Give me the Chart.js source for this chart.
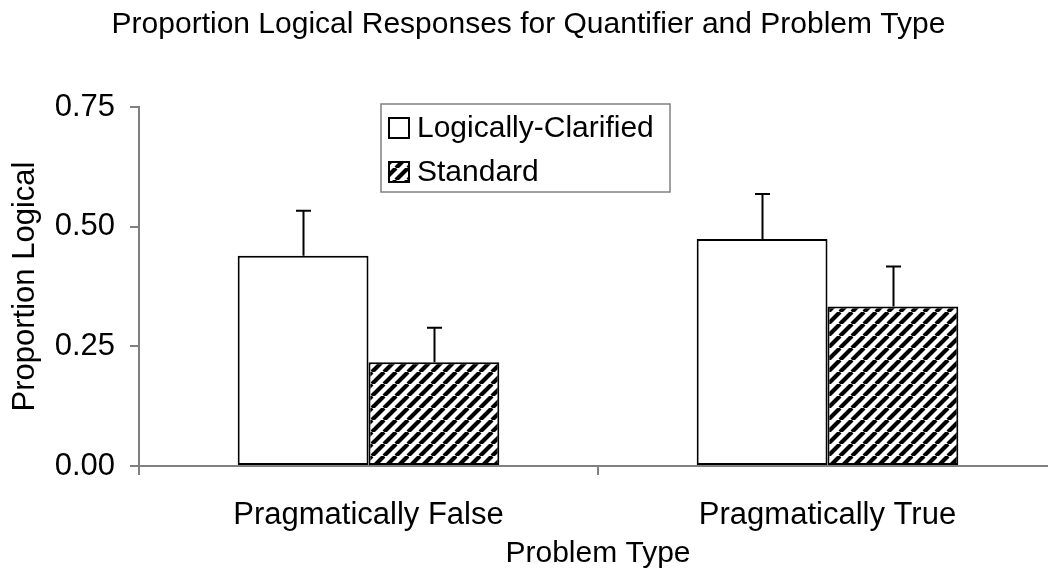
<!DOCTYPE html>
<html>
<head>
<meta charset="utf-8">
<script src="https://cdn.jsdelivr.net/npm/chart.js@4.4.1/dist/chart.umd.min.js"></script>
<style>
  html, body { margin: 0; padding: 0; background: #fff; overflow: hidden; }
  #wrap { width: 1080px; height: 586px; }
</style>
</head>
<body>
<div id="wrap"><canvas id="chart"></canvas></div>
<script>
// Data
const categories = ['Pragmatically False', 'Pragmatically True'];
const seriesNames = ['Logically-Clarified', 'Standard'];
const clarifiedValues = [0.439, 0.474];
const standardValues = [0.217, 0.333];
const clarifiedErrors = [0.094, 0.094];
const standardErrors = [0.072, 0.084];
const yTicks = [0, 0.25, 0.5, 0.75];

const FONT = "'Liberation Sans', Arial, sans-serif";
const AXIS_GREY = '#808080';

// Diagonal hatch for the Standard series
function makeHatch() {
    const s = 12;
    const c = document.createElement('canvas');
    c.width = s;
    c.height = s;
    const g = c.getContext('2d');
    g.fillStyle = '#fff';
    g.fillRect(0, 0, s, s);
    g.strokeStyle = '#000';
    g.lineWidth = 4.2;
    g.beginPath();
    for (let k = -1; k <= 1; k++) {
        g.moveTo(k * s, s);
        g.lineTo(k * s + s, 0);
    }
    g.stroke();
    return g.createPattern(c, 'repeat');
}
const hatch = makeHatch();

const errorsByDataset = [clarifiedErrors, standardErrors];

// Upper error bars with caps
const errorBarPlugin = {
    id: 'errorBars',
    afterDatasetsDraw(chart) {
        const ctx = chart.ctx;
        const yScale = chart.scales.y;
        ctx.save();
        ctx.strokeStyle = '#000';
        ctx.lineWidth = 2;
        chart.data.datasets.forEach((ds, di) => {
            const meta = chart.getDatasetMeta(di);
            meta.data.forEach((bar, i) => {
                const top = yScale.getPixelForValue(ds.data[i] + errorsByDataset[di][i]);
                const x = Math.round(bar.x) + 0.5;
                ctx.beginPath();
                ctx.moveTo(x, bar.y);
                ctx.lineTo(x, top);
                ctx.moveTo(x - 7.5, top);
                ctx.lineTo(x + 7.5, top);
                ctx.stroke();
            });
        });
        ctx.restore();
    }
};

// Boxed legend floating inside the plot area
const boxLegendPlugin = {
    id: 'boxLegend',
    afterDraw(chart) {
        const ctx = chart.ctx;
        const area = chart.chartArea;
        const left = area.left + 242;
        const top = area.top - 3;
        const w = 289, h = 88;
        ctx.save();
        ctx.fillStyle = '#fff';
        ctx.fillRect(left, top, w, h);
        ctx.strokeStyle = AXIS_GREY;
        ctx.lineWidth = 1.5;
        ctx.strokeRect(left, top, w, h);
        ctx.font = '30px ' + FONT;
        ctx.textBaseline = 'middle';
        ctx.textAlign = 'left';
        chart.data.datasets.forEach((ds, i) => {
            const cy = top + 24 + i * 44;
            ctx.fillStyle = ds.backgroundColor;
            ctx.fillRect(left + 8, cy - 10, 20, 20);
            ctx.strokeStyle = '#000';
            ctx.lineWidth = 2;
            ctx.strokeRect(left + 8, cy - 10, 20, 20);
            ctx.fillStyle = '#000';
            ctx.fillText(ds.label, left + 36, cy + 1);
        });
        ctx.restore();
    }
};

new Chart(document.getElementById('chart'), {
    type: 'bar',
    data: {
        labels: categories,
        datasets: [
            {
                label: seriesNames[0],
                data: clarifiedValues,
                backgroundColor: '#ffffff',
                borderColor: '#000000',
                borderWidth: 2,
                borderSkipped: false
            },
            {
                label: seriesNames[1],
                data: standardValues,
                backgroundColor: hatch,
                borderColor: '#000000',
                borderWidth: 2,
                borderSkipped: false
            }
        ]
    },
    options: {
        responsive: true,
        maintainAspectRatio: false,
        animation: false,
        layout: { padding: { left: 0, right: 23, top: 0, bottom: 0 } },
        datasets: {
            bar: { categoryPercentage: 0.57, barPercentage: 1.0 }
        },
        plugins: {
            legend: { display: false },
            tooltip: { enabled: false },
            title: {
                display: true,
                text: 'Proportion Logical Responses for Quantifier and Problem Type',
                color: '#000',
                font: { family: FONT, size: 30, weight: 'normal' },
                padding: { top: 6.5, bottom: 64.5 }
            }
        },
        scales: {
            x: {
                afterFit(scale) { scale.height = 120; },
                grid: {
                    display: true,
                    drawOnChartArea: false,
                    offset: true,
                    tickLength: 9,
                    color: AXIS_GREY,
                    lineWidth: 2
                },
                border: { color: AXIS_GREY, width: 2 },
                ticks: {
                    color: '#000',
                    padding: 22,
                    maxRotation: 0,
                    font: { family: FONT, size: 31 }
                },
                title: {
                    display: true,
                    text: 'Problem Type',
                    color: '#000',
                    font: { family: FONT, size: 30 },
                    padding: { top: 0, bottom: 14 }
                }
            },
            y: {
                min: 0,
                max: 0.75,
                afterFit(scale) { scale.width = 139; },
                afterBuildTicks(scale) {
                    scale.ticks = yTicks.map(v => ({ value: v }));
                },
                grid: {
                    display: true,
                    drawOnChartArea: false,
                    tickLength: 9,
                    color: AXIS_GREY,
                    lineWidth: 2
                },
                border: { color: AXIS_GREY, width: 2 },
                ticks: {
                    color: '#000',
                    padding: 15,
                    font: { family: FONT, size: 31 },
                    callback: v => Number(v).toFixed(2)
                },
                title: {
                    display: true,
                    text: 'Proportion Logical',
                    color: '#000',
                    font: { family: FONT, size: 31 },
                    padding: { top: 6.4, bottom: 0 }
                }
            }
        }
    },
    plugins: [errorBarPlugin, boxLegendPlugin]
});
</script>
</body>
</html>
